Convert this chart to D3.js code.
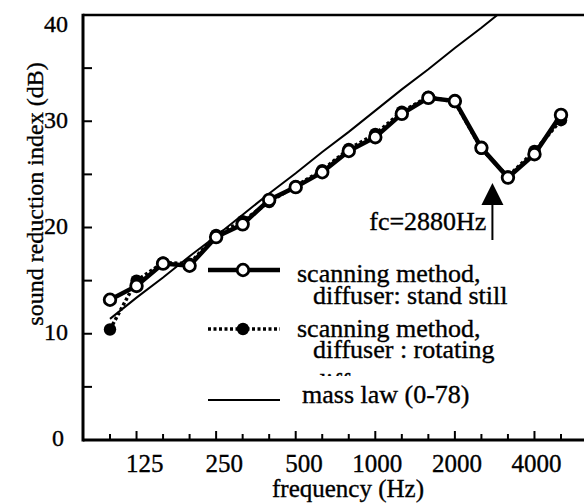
<!DOCTYPE html>
<html><head><meta charset="utf-8">
<script src="https://cdn.jsdelivr.net/npm/d3@7"></script>
<style>
html,body{margin:0;padding:0;background:#fff;}
svg{display:block;font-family:"Liberation Serif","Times New Roman",serif;}
svg text{fill:#000;stroke:#000;stroke-width:0.35px;}
</style></head>
<body>
<svg id="c" width="584" height="503"></svg>
<script>
const bands = ["100","125","160","200","250","315","400","500","630","800","1000","1250","1600","2000","2500","3150","4000","5000"];
const labeledBands = ["125","250","500","1000","2000","4000"];
const standStill = [13.2,14.5,16.6,16.4,19.1,20.3,22.6,23.8,25.2,27.2,28.5,30.7,32.2,31.9,27.5,24.7,26.9,30.6];
const rotating   = [10.4,15.0,16.7,16.6,19.3,20.6,22.4,23.9,25.4,27.4,28.8,30.9,32.3,31.8,27.4,24.8,27.2,30.1];
const massLaw    = [11.4,13.4,15.3,17.3,19.2,21.2,23.2,25.1,27.1,29.0,31.0,33.0,34.9,36.9,38.8,40.8];
const yTicks = [0,5,10,15,20,25,30,35,40];
const yLabels = [0,10,20,30,40];
const fcBand = "2500";
const fcLabel = "fc=2880Hz";
const legendItems = [
  {lines:["scanning method,","diffuser: stand still"], kind:"still"},
  {lines:["scanning method,","diffuser : rotating"], kind:"rot"},
  {lines:["mass law (0-78)"], kind:"mass"}
];

(function(){
const svg = d3.select("#c");
const W = 584;
const pL = 83, pT = 15, pB = 440;
const x = d3.scalePoint().domain(bands).range([110, 561]);
const y = d3.scaleLinear().domain([0, 40]).range([pB, pT]);

svg.append("defs").append("clipPath").attr("id","plot")
  .append("rect").attr("x", pL).attr("y", pT).attr("width", W - pL).attr("height", pB - pT);

const line = d3.line().x((d,i)=>x(bands[i])).y(d=>y(d));
// mass law
svg.append("path").attr("clip-path","url(#plot)")
  .attr("d", line(massLaw)).attr("fill","none").attr("stroke","#000").attr("stroke-width",2);

// rotating series (dotted + filled)
svg.append("path").attr("d", line(rotating)).attr("fill","none")
  .attr("stroke","#000").attr("stroke-width",3.5).attr("stroke-dasharray","3,2.5");
svg.selectAll("circle.rot").data(rotating).join("circle").attr("class","rot")
  .attr("cx",(d,i)=>x(bands[i])).attr("cy",d=>y(d)).attr("r",6.2).attr("fill","#000");

// stand still series (thick + open)
svg.append("path").attr("d", line(standStill)).attr("fill","none")
  .attr("stroke","#000").attr("stroke-width",4.5);
svg.selectAll("circle.st").data(standStill).join("circle").attr("class","st")
  .attr("cx",(d,i)=>x(bands[i])).attr("cy",d=>y(d)).attr("r",5.8)
  .attr("fill","#fff").attr("stroke","#000").attr("stroke-width",2.8);

// frame
svg.append("line").attr("x1",pL).attr("x2",W).attr("y1",pT).attr("y2",pT).attr("stroke","#000").attr("stroke-width",2.5);
svg.append("line").attr("x1",pL).attr("x2",W).attr("y1",pB).attr("y2",pB).attr("stroke","#000").attr("stroke-width",3);
svg.append("line").attr("x1",pL).attr("x2",pL).attr("y1",pT-1.2).attr("y2",pB+1.5).attr("stroke","#000").attr("stroke-width",3);

// x ticks
svg.append("g").selectAll("line").data(bands).join("line")
  .attr("x1",d=>x(d)).attr("x2",d=>x(d)).attr("y1",pB)
  .attr("y2",d=>pB - (labeledBands.includes(d)?9:6))
  .attr("stroke","#000").attr("stroke-width",2);
svg.append("g").selectAll("text").data(labeledBands).join("text")
  .attr("x",d=>x(d)+27).attr("y",472).attr("text-anchor","end")
  .attr("font-size",25).text(d=>d);

// y ticks
svg.append("g").selectAll("line").data(yTicks.filter(d=>d>0&&d<40)).join("line")
  .attr("x1",pL).attr("x2",pL+9).attr("y1",d=>y(d)).attr("y2",d=>y(d))
  .attr("stroke","#000").attr("stroke-width",2);
svg.append("g").selectAll("text").data(yLabels).join("text")
  .attr("x",d=>d===0?64:68).attr("y",d=>y(d)+(d===40?9:-2)).attr("dy","0.35em")
  .attr("text-anchor","end").attr("font-size",24).text(d=>d);

// axis titles
svg.append("text").attr("transform","translate(43,194) rotate(-90)")
  .attr("text-anchor","middle").attr("font-size",24).text("sound reduction index (dB)");
svg.append("text").attr("x",348).attr("y",497).attr("text-anchor","middle")
  .attr("font-size",25).text("frequency (Hz)");

// fc annotation
const fx = x(fcBand) + 11;
svg.append("line").attr("x1",fx).attr("x2",fx).attr("y1",240).attr("y2",200)
  .attr("stroke","#000").attr("stroke-width",2);
svg.append("path").attr("d",`M${fx},183 L${fx-11},205 L${fx+11},205 Z`).attr("fill","#000");
svg.append("text").attr("x",fx-6).attr("y",230).attr("text-anchor","end")
  .attr("font-size",26).text(fcLabel);

// legend
const lg = svg.append("g");
const sampleY = [270, 329, 400];
const textY = [[282,304],[337,358],[403]];
const textX = [[297,313],[297,313],[302]];
// partly hidden leftover text under the legend
lg.append("text").attr("x",313).attr("y",391).attr("font-size",26).text("diffuser");
lg.append("rect").attr("x",295).attr("y",376).attr("width",220).attr("height",40).attr("fill","#fff");
legendItems.forEach((it, k) => {
  const sy = sampleY[k];
  const ln = lg.append("line").attr("x1",208).attr("x2",280).attr("y1",sy).attr("y2",sy).attr("stroke","#000");
  if (it.kind === "still") {
    ln.attr("stroke-width",4.5);
    lg.append("circle").attr("cx",243).attr("cy",sy).attr("r",5.8).attr("fill","#fff").attr("stroke","#000").attr("stroke-width",2.8);
  } else if (it.kind === "rot") {
    ln.attr("stroke-width",3.5).attr("stroke-dasharray","3,2.5");
    lg.append("circle").attr("cx",243).attr("cy",sy).attr("r",6.2).attr("fill","#000");
  } else {
    ln.attr("stroke-width",2);
  }
  it.lines.forEach((t, j) => {
    lg.append("text").attr("x",textX[k][j]).attr("y",textY[k][j]).attr("font-size",26).text(t);
  });
});
})();
</script>
</body></html>
